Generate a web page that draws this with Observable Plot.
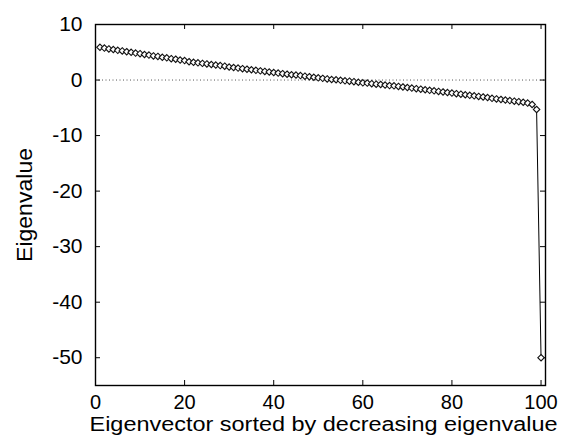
<!DOCTYPE html>
<html>
<head>
<meta charset="utf-8">
<script src="https://cdn.jsdelivr.net/npm/d3@7"></script>
<script src="https://cdn.jsdelivr.net/npm/@observablehq/plot@0.6"></script>
<style>
  html, body { margin: 0; padding: 0; background: #fff; }
  #chart { width: 563px; height: 435px; overflow: hidden; }
</style>
</head>
<body>
<div id="chart"></div>
<script>
// Eigenvalues, sorted in decreasing order (eigenvector 1 .. 100)
const eigenvalues = [
  5.9, 5.75, 5.6, 5.5, 5.35, 5.25, 5.1, 5.0, 4.85, 4.75,
  4.6, 4.5, 4.35, 4.25, 4.1, 4.0, 3.85, 3.75, 3.6, 3.5,
  3.3, 3.2, 3.1, 3.0, 2.9, 2.8, 2.7, 2.6, 2.5, 2.35,
  2.25, 2.15, 2.05, 1.95, 1.85, 1.75, 1.65, 1.55, 1.45, 1.35,
  1.25, 1.15, 1.05, 0.95, 0.9, 0.8, 0.7, 0.6, 0.5, 0.4,
  0.3, 0.2, 0.1, 0.05, -0.05, -0.15, -0.2, -0.3, -0.4, -0.5,
  -0.55, -0.65, -0.75, -0.8, -0.9, -1.0, -1.05, -1.15, -1.25, -1.35,
  -1.45, -1.55, -1.65, -1.75, -1.85, -1.95, -2.05, -2.15, -2.25, -2.35,
  -2.45, -2.55, -2.65, -2.75, -2.85, -2.95, -3.05, -3.15, -3.3, -3.4,
  -3.5, -3.6, -3.7, -3.8, -3.9, -4.0, -4.15, -4.4, -5.3, -50
];
const xTicks = [0, 20, 40, 60, 80, 100];
const yTicks = [10, 0, -10, -20, -30, -40, -50];
const xDomain = [0, 101];
const yDomain = [-55, 10];
const xTitle = "Eigenvector sorted by decreasing eigenvalue";
const yTitle = "Eigenvalue";

const data = eigenvalues.map((v, i) => ({index: i + 1, value: v}));

const W = 563, H = 435;
const mL = 95, mR = 18, mT = 24, mB = 50;
const innerW = W - mL - mR, innerH = H - mT - mB;
const tick = 5;
const fmt = d => String(d); // plain hyphen-minus as in the original

const chart = Plot.plot({
  width: W,
  height: H,
  marginLeft: mL,
  marginRight: mR,
  marginTop: mT,
  marginBottom: mB,
  style: {fontFamily: "'Liberation Sans', Arial, Helvetica, sans-serif", background: "#fff", color: "#000"},
  x: {domain: xDomain, axis: null},
  y: {domain: yDomain, axis: null},
  marks: [
    Plot.ruleY([0], {stroke: "#555", strokeWidth: 1, strokeDasharray: "1,2.5"}),
    // inward tick marks on all four sides
    Plot.tickX(xTicks, {x: d => d, stroke: "black", strokeWidth: 1, insetTop: innerH - tick}),
    Plot.tickX(xTicks, {x: d => d, stroke: "black", strokeWidth: 1, insetBottom: innerH - tick}),
    Plot.tickY(yTicks, {y: d => d, stroke: "black", strokeWidth: 1, insetRight: innerW - tick}),
    Plot.tickY(yTicks, {y: d => d, stroke: "black", strokeWidth: 1, insetLeft: innerW - tick}),
    Plot.axisX(xTicks, {tickSize: 0, tickPadding: 9, fontSize: 20, label: null, tickFormat: fmt}),
    Plot.axisY(yTicks, {tickSize: 0, tickPadding: 13, fontSize: 21, label: null, tickFormat: fmt}),
    Plot.line(data, {x: "index", y: "value", stroke: "black", strokeWidth: 1}),
    Plot.dot(data, {x: "index", y: "value", symbol: "diamond2", r: 2.9, stroke: "#111", strokeWidth: 1.1, fill: "white"}),
    Plot.frame({stroke: "black", strokeWidth: 1.4}),
    Plot.text([xTitle], {frameAnchor: "bottom", lineAnchor: "bottom", dy: 45, dx: 3, fontSize: 20, fill: "black"}),
    Plot.text([yTitle], {frameAnchor: "left", textAnchor: "middle", dx: -71, rotate: -90, fontSize: 22, fill: "black"})
  ]
});
document.getElementById("chart").appendChild(chart);

// stretch the titles to the width they take in the original
d3.select(chart).selectAll("text").each(function() {
  const t = this.textContent;
  if (t === xTitle) d3.select(this).attr("textLength", 468).attr("lengthAdjust", "spacingAndGlyphs");
  if (t === yTitle) d3.select(this).attr("textLength", 114).attr("lengthAdjust", "spacingAndGlyphs");
});
</script>
</body>
</html>
